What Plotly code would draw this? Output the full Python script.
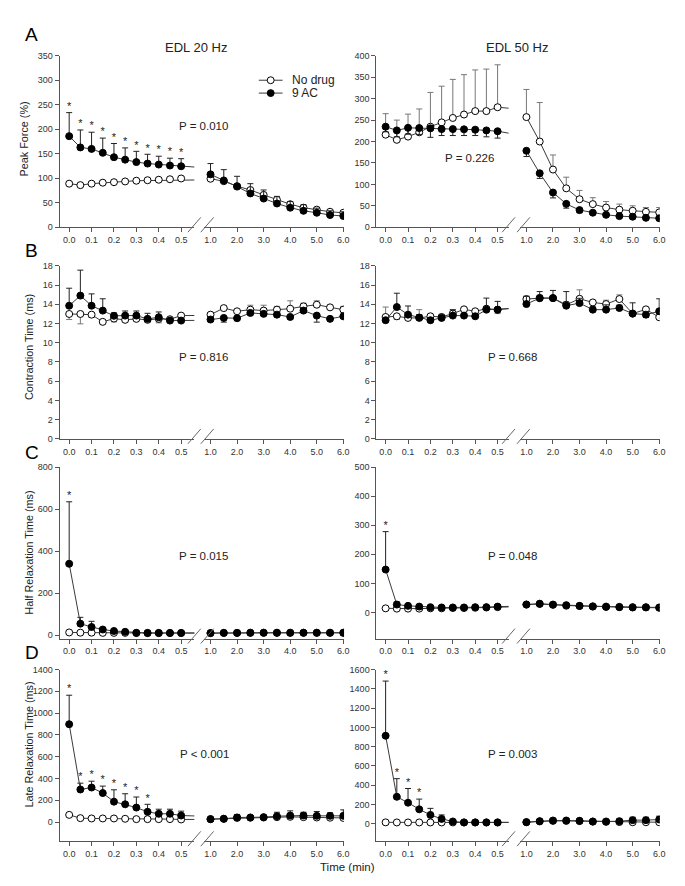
import plotly.graph_objects as go

W, H = 685, 886
FONT = "Arial, 'Liberation Sans', sans-serif"

# ---------------- data ----------------
t_early = [0.0, 0.05, 0.1, 0.15, 0.2, 0.25, 0.3, 0.35, 0.4, 0.45, 0.5]
t_late = [1.0, 1.5, 2.0, 2.5, 3.0, 3.5, 4.0, 4.5, 5.0, 5.5, 6.0]
early_ticks = [0.0, 0.1, 0.2, 0.3, 0.4, 0.5]
early_labels = ["0.0", "0.1", "0.2", "0.3", "0.4", "0.5"]
late_ticks = [1, 2, 3, 4, 5, 6]
late_labels = ["1.0", "2.0", "3.0", "4.0", "5.0", "6.0"]

# each series: 11 early values (0-0.5 min) followed by 11 late values (1-6 min)
# error arrays: positive = bar drawn upward, negative = bar drawn downward
pf20_nodrug = [89, 86, 89, 91, 92, 93.5, 95, 96, 97, 98, 99.6,
               99, 94, 84, 76, 66, 56, 47, 40, 36, 31.6, 29.6]
pf20_nodrug_err = [0] * 22
pf20_9ac = [186, 163, 160, 152, 143, 138, 133, 130, 128, 126, 124.5,
            108, 95.6, 83, 69, 58.6, 48.5, 40, 33.6, 29.6, 25, 23]
pf20_9ac_err = [48, 35.6, 34, 30, 28, 24, 22, 19, 17, 15, 15.5,
                22, 22, 21, 20, 17.5, 14.5, 12.5, 12.4, 9.4, 8.6, 8.6]
pf20_sig = [0.0, 0.05, 0.1, 0.15, 0.2, 0.25, 0.3, 0.35, 0.4, 0.45, 0.5]

pf50_nodrug = [216, 204, 211.5, 221.5, 234.6, 244.6, 255, 263, 271, 271, 280,
               257, 200, 134.6, 90.8, 65.4, 54, 46, 41, 38.5, 36, 34.6]
pf50_nodrug_err = [49, 46, 52.5, 54.5, 80, 84.5, 90, 93, 96, 98, 99,
                   64.5, 91, 34, 26, 20.6, 15, 14, 13, 11.5, 10, 11.4]
pf50_9ac = [234.6, 226, 232, 231.5, 230.8, 229, 229, 228.5, 227.7, 226, 224,
            178.5, 126, 81, 54.6, 40, 34, 29, 26, 24.6, 22, 21]
pf50_9ac_err = [-12, -15, -15, -15, -21, -15, -15, -14.5, -13.7, -15, -16,
                -13.5, -12, -12.5, -10, -6, -4, -3, -3, -3, -3, -3]
pf50_sig = []

ct20_nodrug = [12.99, 12.99, 12.92, 12.17, 12.51, 12.38, 12.48, 12.38, 12.48, 12.44, 12.82,
               12.92, 13.6, 13.27, 13.44, 13.34, 13.44, 13.54, 13.78, 13.95, 13.68, 13.44]
ct20_nodrug_err = [-0.58, -1.03, -0.3, -0.2, -0.34, -0.15, -0.15, -0.2, -0.41, -0.15, 0.1,
                   0.15, 0.2, 0.15, 0.46, 0.56, 0.34, 0.82, 0.34, 0.41, 0.22, 0.34]
ct20_9ac = [13.85, 14.9, 13.85, 13.34, 12.8, 12.82, 12.82, 12.48, 12.65, 12.3, 12.3,
            12.41, 12.58, 12.55, 13.1, 13.0, 12.92, 12.68, 13.34, 12.82, 12.48, 12.75]
ct20_9ac_err = [1.82, 2.65, 1.23, 1.23, 0.3, 0.48, 0.48, 0.58, 0.55, 0.2, 0.15,
                -0.2, -0.44, -0.2, -0.2, -0.2, -0.2, -0.2, -0.2, -0.68, -0.2, -0.2]
ct20_sig = []

ct50_nodrug = [12.68, 12.75, 12.58, 12.58, 12.75, 12.68, 13.03, 13.47, 13.27, 13.54, 13.44,
               14.54, 14.64, 14.64, 13.95, 14.57, 14.19, 14.02, 14.54, 13.03, 13.47, 12.65]
ct50_nodrug_err = [1.03, -0.34, -0.2, 0.86, 0.1, 0.2, 0.3, 0.2, 0.2, 0.2, -0.41,
                   0.3, 0.3, 0.2, 0.3, 0.93, 0.2, 0.4, 0.44, 0.2, 0.2, -0.17]
ct50_9ac = [12.34, 13.71, 12.92, 12.62, 12.34, 12.58, 12.82, 12.82, 12.75, 13.44, 13.44,
            14.02, 14.64, 14.64, 13.85, 14.12, 13.44, 13.44, 13.61, 13.03, 12.92, 13.27]
ct50_9ac_err = [-0.2, 1.44, 0.9, 0.3, -0.2, 0.3, 0.62, 0.2, 0.2, 1.2, 0.86,
                0.8, 0.68, 0.8, 1.47, 0.5, 0.3, 0.5, 0.3, 1.12, -0.3, 1.3]
ct50_sig = []

hr20_nodrug = [13, 12, 12, 11, 11, 11, 11, 11, 11, 11, 11,
               10, 11, 11, 11, 11, 11, 11, 11, 11, 11, 11]
hr20_nodrug_err = [0] * 22
hr20_9ac = [340, 55, 39, 27, 20, 16, 11, 10, 10, 10, 10,
            10, 11, 11, 12, 12, 12, 12, 12, 12, 12, 12]
hr20_9ac_err = [295, 30, 27, 9, 3, 2, 2, 2, 2, 2, 2,
                2, 2, 2, 2, 2, 2, 2, 2, 2, 2, 2]
hr20_sig = [0.0]

hr50_nodrug = [14, 13, 13, 13, 14, 14, 15, 15, 16, 17, 18,
               27, 29, 26, 23, 22, 21, 20, 19, 18, 18, 17]
hr50_nodrug_err = [0] * 22
hr50_9ac = [147.5, 27, 22.5, 20, 18, 17, 17, 17, 18, 18, 20,
            27, 30, 27, 25, 22.5, 20, 19, 18, 17, 17, 16]
hr50_9ac_err = [130.5, 9, 3, 3, 2, 2, 2, 2, 2, 2, 2,
                2, 2, 2, 2, 2, 2, 2, 2, 2, 2, 2]
hr50_sig = [0.0]

lr20_nodrug = [66, 36, 33, 33, 33, 30, 27, 27, 27, 27, 24,
               27, 30, 38, 40, 42, 45, 48, 45, 42, 40, 38]
lr20_nodrug_err = [0] * 22
lr20_9ac = [898, 299, 317, 266, 187, 163, 133, 94, 76, 76, 60,
            27, 30, 42, 42, 45, 54, 60, 60, 57, 57, 57]
lr20_9ac_err = [266, 58, 58, 64, 109, 97, 97, 69, 42, 42, 40,
                5, 8, 28, 18, 10, 36, 43, 30, 40, 28, 55]
lr20_sig = [0.0, 0.05, 0.1, 0.15, 0.2, 0.25, 0.3, 0.35]

lr50_nodrug = [15, 14, 14, 14, 14, 14, 14, 14, 14, 14, 14,
               17, 25, 30, 30, 28, 22, 20, 18, 16, 16, 16]
lr50_nodrug_err = [0] * 22
lr50_9ac = [913, 280, 219, 150, 92, 51, 24, 14, 14, 14, 14,
            17, 27, 34, 34, 31, 24, 24, 27, 38, 38, 44]
lr50_9ac_err = [567, 188, 147, 106, 68, 41, 10, 5, 5, 5, 5,
                5, 8, 8, 8, 8, 8, 8, 24, 30, 30, 35]
lr50_sig = [0.0, 0.05, 0.1, 0.15]

p_values = ["P = 0.010", "P = 0.226", "P = 0.816", "P = 0.668",
            "P = 0.015", "P = 0.048", "P < 0.001", "P = 0.003"]
y_titles = ["Peak Force (%)", "Contraction Time (ms)",
            "Half Relaxation Time (ms)", "Late Relaxation Time (ms)"]
col_titles = ["EDL 20 Hz", "EDL 50 Hz"]
panel_letters = ["A", "B", "C", "D"]
series_names = ["No drug", "9 AC"]

# (nodrug, nodrug_err, 9ac, 9ac_err, sig, ymin, ymax, dtick)
panels = [
    (pf20_nodrug, pf20_nodrug_err, pf20_9ac, pf20_9ac_err, pf20_sig, 0, 350, 50),
    (pf50_nodrug, pf50_nodrug_err, pf50_9ac, pf50_9ac_err, pf50_sig, 0, 400, 50),
    (ct20_nodrug, ct20_nodrug_err, ct20_9ac, ct20_9ac_err, ct20_sig, 0, 18, 2),
    (ct50_nodrug, ct50_nodrug_err, ct50_9ac, ct50_9ac_err, ct50_sig, 0, 18, 2),
    (hr20_nodrug, hr20_nodrug_err, hr20_9ac, hr20_9ac_err, hr20_sig, -16, 800, 200),
    (hr50_nodrug, hr50_nodrug_err, hr50_9ac, hr50_9ac_err, hr50_sig, -90, 500, 100),
    (lr20_nodrug, lr20_nodrug_err, lr20_9ac, lr20_9ac_err, lr20_sig, -176, 1400, 200),
    (lr50_nodrug, lr50_nodrug_err, lr50_9ac, lr50_9ac_err, lr50_sig, -181, 1600, 200),
]

# ---------------- geometry (pixels) ----------------
COL_X = [(52, 188, 198, 339), (371.7, 505, 517, 657.5)]
COL_XRANGE = [((-0.043, 0.559), (0.765, 6.026)), ((-0.041, 0.549), (0.776, 6.02))]
ROW_Y = [(43.3, 216.7), (255.7, 430.7), (459.3, 632.7), (664, 837.7)]


def px(x):
    return x / W


def py(y):
    return 1 - y / H


LINE_C = "#3a3a3a"
AXIS_C = "#555555"
TEXT_C = "#222222"
tickfont = dict(family=FONT, size=9, color="#333333")

fig = go.Figure()
layout = {}
annotations = []
shapes = []


def split_err(err):
    up = [e if e > 0 else 0 for e in err]
    dn = [-e if e < 0 else 0 for e in err]
    return up, dn


for p, (nd, nd_err, ac, ac_err, sig, ymin, ymax, dtick) in enumerate(panels):
    r, c = divmod(p, 2)
    xl0, xl1, xr0, xr1 = COL_X[c]
    yt, yb = ROW_Y[r]
    yid = p + 1
    xa, xb = 2 * p + 1, 2 * p + 2
    rng_l, rng_r = COL_XRANGE[c]

    common_x = dict(showgrid=False, zeroline=False, showline=True, linecolor=AXIS_C,
                    linewidth=1, ticks="outside", ticklen=4, tickcolor=AXIS_C,
                    tickfont=tickfont, anchor=f"y{yid}", fixedrange=True)
    layout[f"xaxis{xa}"] = dict(common_x, domain=[px(xl0), px(xl1)], range=list(rng_l),
                                tickvals=early_ticks, ticktext=early_labels)
    layout[f"xaxis{xb}"] = dict(common_x, domain=[px(xr0), px(xr1)], range=list(rng_r),
                                tickvals=late_ticks, ticktext=late_labels)
    layout[f"yaxis{yid}"] = dict(domain=[py(yb), py(yt)], range=[ymin, ymax], tick0=0,
                                 dtick=dtick, showgrid=False, zeroline=False, showline=True,
                                 linecolor=AXIS_C, linewidth=1, ticks="outside", ticklen=4,
                                 tickcolor=AXIS_C, tickfont=tickfont, anchor=f"x{xa}",
                                 fixedrange=True)

    for vals, err, fill, ecol in ((nd, nd_err, "white", "#777777"),
                                  (ac, ac_err, "black", "#222222")):
        up, dn = split_err(err)
        # early segment (line continues towards first late point, clipped at break)
        fig.add_trace(go.Scatter(
            x=t_early + [t_late[0]], y=vals[:11] + [vals[11]],
            xaxis=f"x{xa}", yaxis=f"y{yid}", mode="lines+markers",
            line=dict(color=LINE_C, width=1),
            marker=dict(size=7, color=fill, line=dict(color="black", width=1)),
            error_y=dict(type="data", symmetric=False, array=up[:11] + [0],
                         arrayminus=dn[:11] + [0], thickness=1, width=3, color=ecol),
            showlegend=False, hoverinfo="skip"))
        fig.add_trace(go.Scatter(
            x=t_late, y=vals[11:],
            xaxis=f"x{xb}", yaxis=f"y{yid}", mode="lines+markers",
            line=dict(color=LINE_C, width=1),
            marker=dict(size=7, color=fill, line=dict(color="black", width=1)),
            error_y=dict(type="data", symmetric=False, array=up[11:],
                         arrayminus=dn[11:], thickness=1, width=3, color=ecol),
            showlegend=False, hoverinfo="skip"))

    if sig:
        sy = []
        for t in sig:
            i = t_early.index(t)
            sy.append(ac[i] + max(ac_err[i], 0))
        fig.add_trace(go.Scatter(
            x=sig, y=sy, xaxis=f"x{xa}", yaxis=f"y{yid}", mode="text",
            text=["*"] * len(sig), textposition="top center",
            textfont=dict(family=FONT, size=11, color="#222222"),
            showlegend=False, hoverinfo="skip", cliponaxis=False))

    # axis break marks
    for cx in (xl1, xr0 + 3):
        shapes.append(dict(type="line", xref="paper", yref="paper",
                           x0=px(cx - 6.5), y0=py(yb + 5), x1=px(cx + 6.5), y1=py(yb - 10),
                           line=dict(color="#666666", width=1)))

# P value texts
p_pos = [(197, 114), (466, 147), (197, 348), (509, 348),
         (197, 549), (509, 549), (198, 749), (509, 749)]
for txt, (x, y) in zip(p_values, p_pos):
    annotations.append(dict(text=txt, x=px(x), y=py(y), xref="paper", yref="paper",
                            showarrow=False, xanchor="center", yanchor="middle",
                            font=dict(family=FONT, size=11.5, color=TEXT_C)))

# column titles
for txt, x in zip(col_titles, (189.5, 513.7)):
    annotations.append(dict(text=txt, x=px(x), y=py(35), xref="paper", yref="paper",
                            showarrow=False, xanchor="center", yanchor="middle",
                            font=dict(family=FONT, size=13, color=TEXT_C)))

# panel letters
for txt, y in zip(panel_letters, (22, 240, 445, 647)):
    annotations.append(dict(text=txt, x=px(24), y=py(y), xref="paper", yref="paper",
                            showarrow=False, xanchor="center", yanchor="middle",
                            font=dict(family=FONT, size=19, color="black")))

# y-axis titles
for txt, (x, y) in zip(y_titles, ((16, 127), (21, 338), (21, 546), (21, 740))):
    annotations.append(dict(text=txt, x=px(x), y=py(y), xref="paper", yref="paper",
                            showarrow=False, xanchor="center", yanchor="middle",
                            textangle=-90, font=dict(family=FONT, size=10.8, color=TEXT_C)))

# x-axis title
annotations.append(dict(text="Time (min)", x=px(343), y=py(864), xref="paper", yref="paper",
                        showarrow=False, xanchor="center", yanchor="middle",
                        font=dict(family=FONT, size=11.5, color=TEXT_C)))

# legend (drawn manually)
for (name, fill), ly in zip(zip(series_names, ("white", "black")), (68, 81)):
    shapes.append(dict(type="line", xref="paper", yref="paper", x0=px(253), x1=px(277),
                       y0=py(ly), y1=py(ly), line=dict(color=LINE_C, width=1)))
    shapes.append(dict(type="circle", xref="paper", yref="paper", x0=px(261.5), x1=px(268.5),
                       y0=py(ly + 3.5), y1=py(ly - 3.5), fillcolor=fill,
                       line=dict(color="black", width=1)))
    annotations.append(dict(text=name, x=px(284), y=py(ly), xref="paper", yref="paper",
                            showarrow=False, xanchor="left", yanchor="middle",
                            font=dict(family=FONT, size=12, color=TEXT_C)))

fig.update_layout(width=W, height=H, margin=dict(l=0, r=0, t=0, b=0),
                  paper_bgcolor="white", plot_bgcolor="white",
                  annotations=annotations, shapes=shapes, showlegend=False,
                  font=dict(family=FONT), **layout)

fig.write_html("out.html")
